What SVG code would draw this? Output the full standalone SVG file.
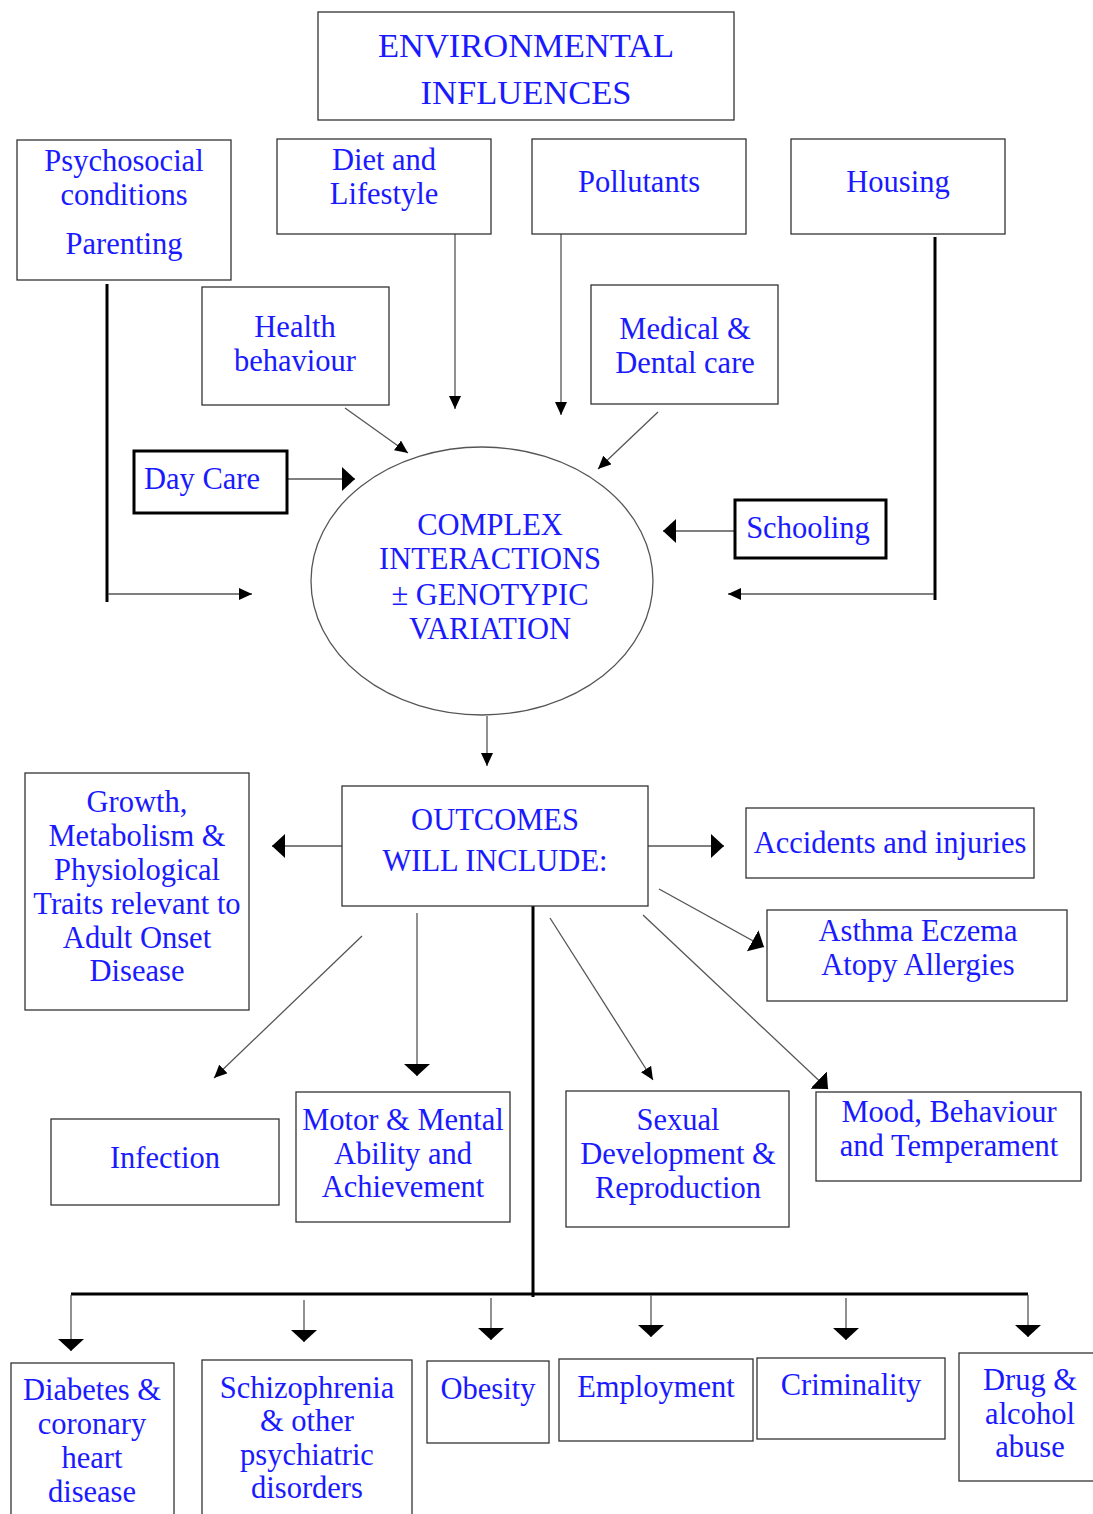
<svg xmlns="http://www.w3.org/2000/svg" width="1093" height="1514" viewBox="0 0 1093 1514">
<style>
.b{fill:#fff;stroke:#333;stroke-width:1.3}
.bt{fill:#fff;stroke:#000;stroke-width:3}
text{font-family:"Liberation Serif","Times New Roman",serif;font-size:30.5px;fill:#1a1aff;text-anchor:middle}
.t{font-size:34.5px}
.l{stroke:#555;stroke-width:1.3;fill:none}
.k{stroke:#000;stroke-width:3;fill:none}
</style>
<defs>
<marker id="s" markerUnits="userSpaceOnUse" markerWidth="14" markerHeight="12" refX="13" refY="6" orient="auto"><path d="M0,0 L13,6 L0,12 z" fill="#000"/></marker>
<marker id="g" markerUnits="userSpaceOnUse" markerWidth="14" markerHeight="24" refX="13" refY="12" orient="auto"><path d="M0,0 L13,12 L0,24 z" fill="#000"/></marker>
<marker id="w" markerUnits="userSpaceOnUse" markerWidth="13" markerHeight="26" refX="12" refY="13" orient="auto"><path d="M0,0 L12,13 L0,26 z" fill="#000"/></marker>
</defs>
<g id="connectors">
<path class="k" d="M107,284 V602"/>
<path class="l" d="M108,594 H252" marker-end="url(#s)"/>
<path class="l" d="M455,234 V409" marker-end="url(#s)"/>
<path class="l" d="M561,234 V415" marker-end="url(#s)"/>
<path class="k" d="M935,237 V600"/>
<path class="l" d="M934,594 H728" marker-end="url(#s)"/>
<path class="l" d="M345,408 L408,453" marker-end="url(#s)"/>
<path class="l" d="M658,412 L598,469" marker-end="url(#s)"/>
<path class="l" d="M287,479 H355" marker-end="url(#g)"/>
<path class="l" d="M734,531 H663" marker-end="url(#g)"/>
<path class="l" d="M487,716 V766" marker-end="url(#s)"/>
<path class="l" d="M342,846 H272" marker-end="url(#g)"/>
<path class="l" d="M648,846 H724" marker-end="url(#g)"/>
<path class="l" d="M659,889 L764,947" marker-end="url(#g)"/>
<path class="l" d="M643,915 L828,1089" marker-end="url(#g)"/>
<path class="l" d="M550,918 L653,1080" marker-end="url(#s)"/>
<path class="l" d="M417,913 V1076" marker-end="url(#w)"/>
<path class="l" d="M362,936 L214,1078" marker-end="url(#s)"/>
<path class="k" d="M533,902 V1297"/>
<path class="k" d="M71,1294 H1028"/>
<path class="l" d="M71,1295 V1351" marker-end="url(#w)"/>
<path class="l" d="M304,1300 V1342" marker-end="url(#w)"/>
<path class="l" d="M491,1298 V1340" marker-end="url(#w)"/>
<path class="l" d="M651,1295 V1337" marker-end="url(#w)"/>
<path class="l" d="M846,1298 V1340" marker-end="url(#w)"/>
<path class="l" d="M1028,1295 V1337" marker-end="url(#w)"/>
</g>
<g id="env"><rect class="b" x="318" y="12" width="416" height="108"/><text class="t" x="526" y="57">ENVIRONMENTAL</text><text class="t" x="526" y="104">INFLUENCES</text></g>
<g id="psycho"><rect class="b" x="17" y="140" width="214" height="140"/><text x="124" y="171">Psychosocial</text><text x="124" y="205">conditions</text><text x="124" y="254">Parenting</text></g>
<g id="diet"><rect class="b" x="277" y="139" width="214" height="95"/><text x="384" y="170">Diet and</text><text x="384" y="204">Lifestyle</text></g>
<g id="pollutants"><rect class="b" x="532" y="139" width="214" height="95"/><text x="639" y="192">Pollutants</text></g>
<g id="housing"><rect class="b" x="791" y="139" width="214" height="95"/><text x="898" y="192">Housing</text></g>
<g id="health"><rect class="b" x="202" y="287" width="187" height="118"/><text x="295" y="337">Health</text><text x="295" y="371">behaviour</text></g>
<g id="medical"><rect class="b" x="591" y="285" width="187" height="119"/><text x="685" y="339">Medical &amp;</text><text x="685" y="373">Dental care</text></g>
<g id="daycare"><rect class="bt" x="134" y="451" width="153" height="62"/><text x="202" y="489">Day Care</text></g>
<g id="schooling"><rect class="bt" x="735" y="500" width="151" height="58"/><text x="808" y="538">Schooling</text></g>
<g id="complex"><ellipse cx="482" cy="581" rx="171" ry="134" fill="#fff" stroke="#555" stroke-width="1.3"/><text x="490" y="535">COMPLEX</text><text x="490" y="569">INTERACTIONS</text><text x="490" y="605">± GENOTYPIC</text><text x="490" y="639">VARIATION</text></g>
<g id="outcomes"><rect class="b" x="342" y="786" width="306" height="120"/><text x="495" y="830">OUTCOMES</text><text x="495" y="871">WILL INCLUDE:</text></g>
<g id="growth"><rect class="b" x="25" y="773" width="224" height="237"/><text x="137" y="812">Growth,</text><text x="137" y="846">Metabolism &amp;</text><text x="137" y="880">Physiological</text><text x="137" y="914">Traits relevant to</text><text x="137" y="948">Adult Onset</text><text x="137" y="981">Disease</text></g>
<g id="accidents"><rect class="b" x="746" y="808" width="288" height="70"/><text x="890" y="853">Accidents and injuries</text></g>
<g id="asthma"><rect class="b" x="767" y="910" width="300" height="91"/><text x="918" y="941">Asthma Eczema</text><text x="918" y="975">Atopy Allergies</text></g>
<g id="infection"><rect class="b" x="51" y="1119" width="228" height="86"/><text x="165" y="1168">Infection</text></g>
<g id="motor"><rect class="b" x="296" y="1092" width="214" height="130"/><text x="403" y="1130">Motor &amp; Mental</text><text x="403" y="1164">Ability and</text><text x="403" y="1197">Achievement</text></g>
<g id="sexual"><rect class="b" x="566" y="1091" width="223" height="136"/><text x="678" y="1130">Sexual</text><text x="678" y="1164">Development &amp;</text><text x="678" y="1198">Reproduction</text></g>
<g id="mood"><rect class="b" x="816" y="1092" width="265" height="89"/><text x="949" y="1122">Mood, Behaviour</text><text x="949" y="1156">and Temperament</text></g>
<g id="diabetes"><rect class="b" x="11" y="1363" width="163" height="160"/><text x="92" y="1400">Diabetes &amp;</text><text x="92" y="1434">coronary</text><text x="92" y="1468">heart</text><text x="92" y="1502">disease</text></g>
<g id="schizo"><rect class="b" x="202" y="1360" width="210" height="160"/><text x="307" y="1398">Schizophrenia</text><text x="307" y="1431">&amp; other</text><text x="307" y="1465">psychiatric</text><text x="307" y="1498">disorders</text></g>
<g id="obesity"><rect class="b" x="427" y="1361" width="122" height="82"/><text x="488" y="1399">Obesity</text></g>
<g id="employment"><rect class="b" x="559" y="1359" width="194" height="82"/><text x="656" y="1397">Employment</text></g>
<g id="criminality"><rect class="b" x="757" y="1358" width="188" height="81"/><text x="851" y="1395">Criminality</text></g>
<g id="drug"><rect class="b" x="959" y="1353" width="140" height="128"/><text x="1030" y="1390">Drug &amp;</text><text x="1030" y="1424">alcohol</text><text x="1030" y="1457">abuse</text></g>
</svg>
